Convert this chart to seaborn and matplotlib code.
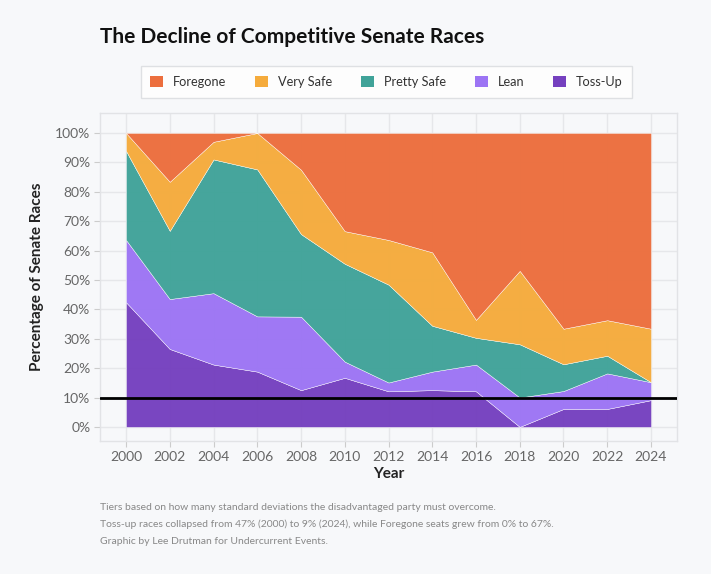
import numpy as np
import matplotlib
matplotlib.use("Agg")
import matplotlib.pyplot as plt
import matplotlib.patches as mpatches
import seaborn as sns

# ==============================
# Data (share of Senate races per tier, %)
# ==============================
years = [2000, 2002, 2004, 2006, 2008, 2010, 2012, 2014, 2016, 2018, 2020, 2022, 2024]

toss_up = [42.4, 26.5, 21.2, 18.8, 12.5, 16.7, 12.1, 12.5, 12.1, 0.0, 6.1, 6.1, 9.1]
lean = [21.2, 17.0, 24.3, 18.8, 25.0, 5.5, 3.0, 6.3, 9.1, 10.0, 6.1, 12.1, 6.1]
pretty_safe = [30.3, 23.2, 45.5, 50.0, 28.1, 33.3, 33.3, 15.6, 9.1, 18.1, 9.1, 6.0, 0.0]
very_safe = [6.1, 16.7, 6.0, 12.4, 21.9, 11.1, 15.2, 25.0, 6.1, 25.0, 12.1, 12.1, 18.2]
foregone = [0.0, 16.6, 3.0, 0.0, 12.5, 33.4, 36.4, 40.6, 63.6, 46.9, 66.6, 63.7, 66.6]

tiers = ["Toss-Up", "Lean", "Pretty Safe", "Very Safe", "Foregone"]
colors = ["#7540BF", "#9C74F4", "#40A399", "#F5AB3C", "#EC6E3D"]

y_ticks = list(range(0, 101, 10))
x_ticks = years
threshold = 10

caption_lines = [
    "Tiers based on how many standard deviations the disadvantaged party must overcome.",
    "Toss-up races collapsed from 47% (2000) to 9% (2024), while Foregone seats grew from 0% to 67%.",
    "Graphic by Lee Drutman for Undercurrent Events.",
]

# ==============================
# Style
# ==============================
bg = "#F7F8FA"
sns.set_theme(style="whitegrid")
plt.rcParams["font.family"] = ["Lato", "DejaVu Sans"]

fig = plt.figure(figsize=(7.11, 5.74), dpi=100, facecolor=bg)
ax = fig.add_axes([100 / 711, 133 / 574, 577 / 711, 328 / 574])
ax.set_facecolor(bg)

# ==============================
# Stacked area
# ==============================
ax.stackplot(years, toss_up, lean, pretty_safe, very_safe, foregone,
             colors=colors, alpha=0.97, edgecolor="#ffffff", linewidth=0.3,
             zorder=2)
ax.axhline(threshold, color="black", linewidth=2, zorder=3)

ax.set_xlim(years[0] - 1.19, years[-1] + 1.19)
ax.set_ylim(-4.8, 106.8)
ax.set_xticks(x_ticks)
ax.set_yticks(y_ticks)
ax.set_yticklabels([f"{t}%" for t in y_ticks])

ax.grid(True, color="#E6E7EA", linewidth=1, zorder=0)
ax.set_axisbelow(True)
for s in ax.spines.values():
    s.set_color("#E2E3E6")
    s.set_linewidth(1)

ax.tick_params(axis="both", colors="#666666", labelsize=10, length=4,
               width=0.8, direction="out", pad=3)
ax.tick_params(axis="both", color="#CCCCCC")
ax.xaxis.set_tick_params(bottom=True)
ax.yaxis.set_tick_params(left=True)

ax.set_xlabel("Year", fontsize=11, fontweight="bold", color="#222222", labelpad=3)
ax.set_ylabel("Percentage of Senate Races", fontsize=11, fontweight="bold",
              color="#222222", labelpad=8)

# ==============================
# Title, legend, caption
# ==============================
fig.text(100 / 711, 1 - 37 / 574, "The Decline of Competitive Senate Races",
         fontsize=15, fontweight="bold", color="#111111", va="center", ha="left")

handles = [mpatches.Patch(facecolor=c, edgecolor="none", label=t)
           for t, c in zip(tiers[::-1], colors[::-1])]
leg = fig.legend(handles=handles, ncol=5, loc="center",
                 bbox_to_anchor=(386.5 / 711, 1 - 82 / 574), frameon=True,
                 fontsize=9.2, handlelength=1.0, handleheight=1.0,
                 handletextpad=0.75, columnspacing=2.3, borderpad=0.75,
                 fancybox=False)
leg.get_frame().set_facecolor("white")
leg.get_frame().set_edgecolor("#D8DADD")
leg.get_frame().set_linewidth(1)
for t in leg.get_texts():
    t.set_color("#333333")

for i, line in enumerate(caption_lines):
    fig.text(100 / 711, 1 - (507 + i * 17.5) / 574, line, fontsize=7.5,
             color="#888888", va="center", ha="left")

fig.savefig("out.png", dpi=100, facecolor=bg)
